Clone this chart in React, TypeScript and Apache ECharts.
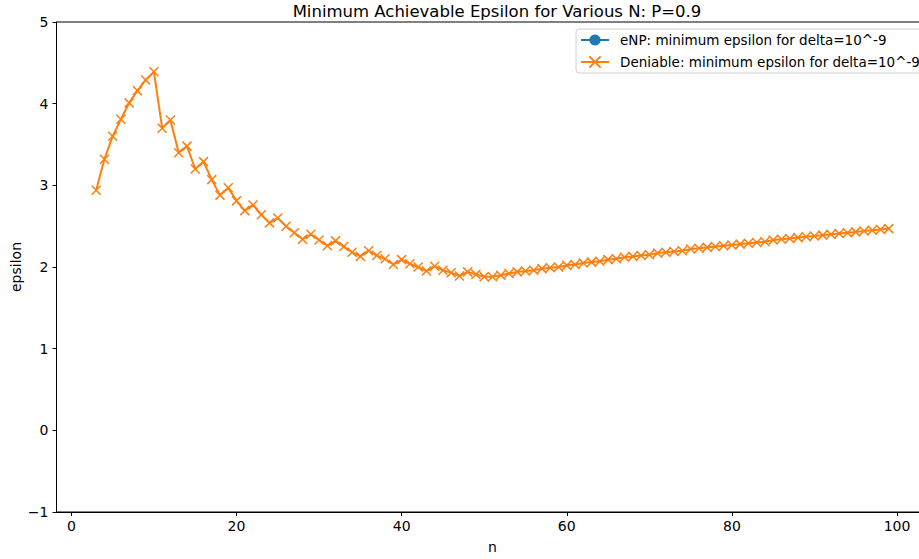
import React, { useEffect, useRef } from "react";
import * as echarts from "echarts";

const nValues: number[] = [];
for (let n = 3; n <= 99; n++) nValues.push(n);

const deniableEps: number[] = [
  2.94, 3.32, 3.6, 3.81, 4.01, 4.16, 4.29, 4.39,
  3.7, 3.8, 3.4, 3.48, 3.2, 3.29, 3.07, 2.88, 2.97, 2.81,
  2.69, 2.76, 2.64, 2.54, 2.6, 2.5, 2.42, 2.34, 2.4, 2.33,
  2.26, 2.32, 2.25, 2.18, 2.13, 2.2, 2.14, 2.1, 2.03, 2.09,
  2.04, 2.0, 1.95, 2.01, 1.96, 1.93, 1.89, 1.94, 1.91, 1.88,
  1.88, 1.9, 1.92, 1.94, 1.95, 1.96, 1.98, 1.99, 2.0, 2.02,
  2.03, 2.05, 2.06, 2.07, 2.09, 2.1, 2.12, 2.13, 2.14, 2.15,
  2.17, 2.18, 2.19, 2.2, 2.22, 2.23, 2.24, 2.25, 2.26, 2.27,
  2.28, 2.29, 2.3, 2.31, 2.33, 2.34, 2.35, 2.36, 2.37, 2.38,
  2.39, 2.4, 2.41, 2.42, 2.43, 2.44, 2.45, 2.46, 2.47,
];

const enpEps: number[] = [];

const xTicks = [0, 20, 40, 60, 80, 100];
const yTicks = [-1, 0, 1, 2, 3, 4, 5];

const FONT = "DejaVu Sans";

export default function App() {
  const ref = useRef<HTMLDivElement>(null);
  useEffect(() => {
    document.body.style.margin = "0";
    const chart = echarts.init(ref.current!, null, { renderer: "svg" });
    const xSymbol = "path://M0,0L10,10M10,0L0,10";
    chart.setOption({
      animation: false,
      backgroundColor: "#fff",
      textStyle: { fontFamily: FONT },
      title: {
        text: "Minimum Achievable Epsilon for Various N: P=0.9",
        left: 492,
        textAlign: "center",
        top: -2,
        textStyle: { fontFamily: FONT, fontSize: 16.5, fontWeight: "normal", color: "#000" },
      },
      legend: {
        orient: "vertical",
        left: 576,
        top: 29,
        padding: [4, 40, 4, 4],
        itemGap: 8,
        itemWidth: 28,
        itemHeight: 14,
        borderColor: "#d0d0d0",
        borderWidth: 1,
        borderRadius: 3,
        backgroundColor: "rgba(255,255,255,0.8)",
        textStyle: { fontFamily: FONT, fontSize: 13.5, color: "#000", padding: [0, 0, 0, 6] },
        data: [
          "eNP: minimum epsilon for delta=10^-9",
          "Deniable: minimum epsilon for delta=10^-9",
        ],
      },
      grid: {
        left: 56.5,
        right: 940 - 928.4,
        top: 22,
        bottom: 559 - 512,
        outerBoundsMode: "none",
        containLabel: false,
        show: true,
        borderColor: "#000",
        borderWidth: 1,
        backgroundColor: "transparent",
      },
      xAxis: {
        type: "value",
        min: -1.8,
        max: 103.8,
        name: "n",
        nameLocation: "middle",
        nameGap: 28,
        nameMoveOverlap: false,
        nameTextStyle: { fontFamily: FONT, fontSize: 14, color: "#000" },
        axisLine: { show: true, onZero: false, lineStyle: { color: "#000", width: 1 } },
        axisTick: { show: true, inside: false, length: 4, customValues: xTicks, lineStyle: { color: "#000" } },
        axisLabel: { customValues: xTicks, margin: 7, fontFamily: FONT, fontSize: 14, color: "#000" },
        splitLine: { show: false },
      },
      yAxis: {
        type: "value",
        min: -1,
        max: 5,
        interval: 1,
        name: "epsilon",
        nameLocation: "middle",
        nameGap: 34,
        nameMoveOverlap: false,
        nameTextStyle: { fontFamily: FONT, fontSize: 14, color: "#000" },
        axisLine: { show: true, onZero: false, lineStyle: { color: "#000", width: 1 } },
        axisTick: { show: true, inside: false, length: 4, lineStyle: { color: "#000" } },
        axisLabel: {
          margin: 8,
          fontFamily: FONT,
          fontSize: 14,
          color: "#000",
          formatter: (v: number) => (v < 0 ? "\u2212" + Math.abs(v) : String(v)),
        },
        splitLine: { show: false },
      },
      series: [
        {
          name: "eNP: minimum epsilon for delta=10^-9",
          type: "line",
          data: enpEps.map((v, i) => [nValues[i], v]),
          color: "#1f77b4",
          symbol: "circle",
          symbolSize: 8,
          lineStyle: { width: 2, color: "#1f77b4" },
          itemStyle: { color: "#1f77b4" },
        },
        {
          name: "Deniable: minimum epsilon for delta=10^-9",
          type: "line",
          data: deniableEps.map((v, i) => [nValues[i], v]),
          color: "#ff7f0e",
          symbol: xSymbol,
          symbolSize: 9,
          showAllSymbol: true,
          lineStyle: { width: 2, color: "#ff7f0e" },
          itemStyle: { color: "#ff7f0e", borderColor: "#ff7f0e", borderWidth: 1.5 },
        },
      ],
    });
    return () => chart.dispose();
  }, []);
  return (
    <div style={{ position: "fixed", left: 0, top: 0, width: 919, height: 559, overflow: "hidden", background: "#fff" }}>
      <div ref={ref} style={{ width: 940, height: 559 }} />
    </div>
  );
}
